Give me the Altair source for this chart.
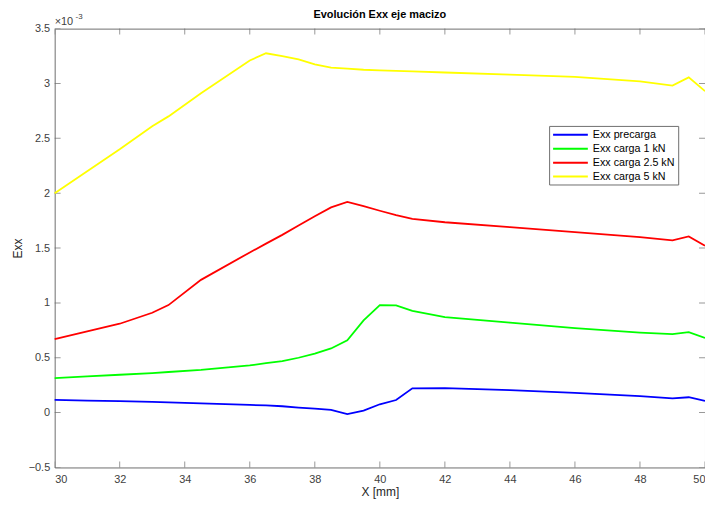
import altair as alt
import pandas as pd

# X positions [mm]
x_mm = [30, 31, 32, 33, 33.5, 34.5, 36, 36.5, 37, 37.5, 38, 38.5, 39, 39.5,
        40, 40.5, 41, 42, 44, 46, 48, 49, 49.5, 50]

# Exx values (x 1e-3)
exx_precarga = [0.116, 0.110, 0.105, 0.098, 0.094, 0.085, 0.070, 0.065, 0.058, 0.046,
                0.037, 0.025, -0.014, 0.019, 0.076, 0.115, 0.221, 0.224, 0.205, 0.180,
                0.150, 0.130, 0.140, 0.106]
exx_1kn = [0.315, 0.330, 0.345, 0.360, 0.370, 0.390, 0.430, 0.450, 0.470, 0.500,
           0.537, 0.585, 0.660, 0.840, 0.980, 0.978, 0.928, 0.870, 0.820, 0.770,
           0.730, 0.715, 0.733, 0.680]
exx_2_5kn = [0.670, 0.740, 0.810, 0.910, 0.980, 1.210, 1.460, 1.540, 1.620, 1.705,
             1.790, 1.870, 1.920, 1.883, 1.840, 1.800, 1.766, 1.735, 1.690, 1.645,
             1.600, 1.570, 1.606, 1.520]
exx_5kn = [2.000, 2.200, 2.400, 2.610, 2.700, 2.910, 3.210, 3.275, 3.250, 3.220,
           3.175, 3.145, 3.135, 3.125, 3.120, 3.115, 3.110, 3.100, 3.080, 3.060,
           3.020, 2.980, 3.055, 2.930]

series_names = ["Exx precarga", "Exx carga 1 kN", "Exx carga 2.5 kN", "Exx carga 5 kN"]
series_values = [exx_precarga, exx_1kn, exx_2_5kn, exx_5kn]
series_colors = ["#0000ff", "#00ff00", "#ff0000", "#ffff00"]

x_ticks = [30, 32, 34, 36, 38, 40, 42, 44, 46, 48, 50]
y_ticks = [-0.5, 0, 0.5, 1, 1.5, 2, 2.5, 3, 3.5]

title_text = ["Evolución Exx eje macizo"]
x_title = "X [mm]"
y_title = "Exx"
exponent_base = ["×10"]
exponent_power = ["-3"]

rows = []
for name, vals in zip(series_names, series_values):
    for xv, yv in zip(x_mm, vals):
        rows.append({"x": xv, "exx": yv, "serie": name})
df = pd.DataFrame(rows)

AX = "#6e6e6e"
TXT = "#404040"
FONT = "Liberation Sans"
W, H = 655, 442
TICK = 6
X_DOM = [30, 50]
Y_DOM = [-0.5, 3.5]

xscale = alt.Scale(domain=X_DOM, nice=False, zero=False)
yscale = alt.Scale(domain=Y_DOM, nice=False, zero=False)

common_axis = dict(domain=False, grid=False, ticks=False, tickSize=0,
                   labelColor=TXT, labelFontSize=11, labelFont=FONT, format="~g",
                   titleColor="#262626", titleFont=FONT, titleFontWeight="normal",
                   titleFontSize=12)

lines = alt.Chart(df).mark_line(strokeWidth=1.8).encode(
    x=alt.X("x:Q", scale=xscale,
            axis=alt.Axis(values=x_ticks, orient="bottom", labelPadding=6,
                          title=x_title, titlePadding=2, **common_axis)),
    y=alt.Y("exx:Q", scale=yscale,
            axis=alt.Axis(values=y_ticks, orient="left", labelPadding=5,
                          title=y_title, titlePadding=4, **common_axis)),
    color=alt.Color("serie:N",
                    scale=alt.Scale(domain=series_names, range=series_colors),
                    sort=series_names,
                    legend=alt.Legend(orient="none", legendX=498, legendY=98,
                                      title=None, symbolType="M-1,0H6",
                                      symbolSize=100, symbolStrokeWidth=2,
                                      labelFontSize=10.8, labelFont=FONT,
                                      labelColor="#000000", labelOffset=29,
                                      strokeColor=AX, fillColor="white",
                                      padding=3, rowPadding=3, labelLimit=300)),
)

# Matlab-style ticks on all four edges: centred on the edge, clipped to the
# plot area so only the inward half shows
tick_rows = ([{"x": v, "exx": Y_DOM[0], "side": "b"} for v in x_ticks] +
             [{"x": v, "exx": Y_DOM[1], "side": "t"} for v in x_ticks] +
             [{"x": X_DOM[0], "exx": v, "side": "l"} for v in y_ticks] +
             [{"x": X_DOM[1], "exx": v, "side": "r"} for v in y_ticks])
tk = pd.DataFrame(tick_rows)

ticks_x = alt.Chart(tk).transform_filter(
    "datum.side == 'b' || datum.side == 't'"
).mark_tick(color=AX, thickness=1, size=2 * TICK, orient="vertical",
            clip=True).encode(
    x=alt.X("x:Q", scale=xscale), y=alt.Y("exx:Q", scale=yscale))

ticks_y = alt.Chart(tk).transform_filter(
    "datum.side == 'l' || datum.side == 'r'"
).mark_tick(color=AX, thickness=1, size=2 * TICK, orient="horizontal",
            clip=True).encode(
    x=alt.X("x:Q", scale=xscale), y=alt.Y("exx:Q", scale=yscale))

exp_base = alt.Chart(pd.DataFrame({"t": exponent_base})).mark_text(
    align="left", baseline="alphabetic", fontSize=11, font=FONT, color=TXT
).encode(x=alt.value(0), y=alt.value(-4), text="t:N")

exp_pow = alt.Chart(pd.DataFrame({"t": exponent_power})).mark_text(
    align="left", baseline="alphabetic", fontSize=8, font=FONT, color=TXT
).encode(x=alt.value(21), y=alt.value(-10), text="t:N")

title_mark = alt.Chart(pd.DataFrame({"t": title_text})).mark_text(
    align="center", baseline="alphabetic", fontSize=11, fontWeight="bold",
    font=FONT, color="#000000"
).encode(x=alt.value(W / 2), y=alt.value(-11), text="t:N")

chart = alt.layer(
    ticks_x, ticks_y, lines, exp_base, exp_pow, title_mark
).properties(
    width=W, height=H,
    padding={"left": 47, "top": 19, "right": 0, "bottom": 30},
    autosize=alt.AutoSizeParams(type="none"),
    background="white",
).configure_view(stroke=AX, strokeWidth=1)

chart.save("out.html", embed_options={"renderer": "svg", "actions": False})
